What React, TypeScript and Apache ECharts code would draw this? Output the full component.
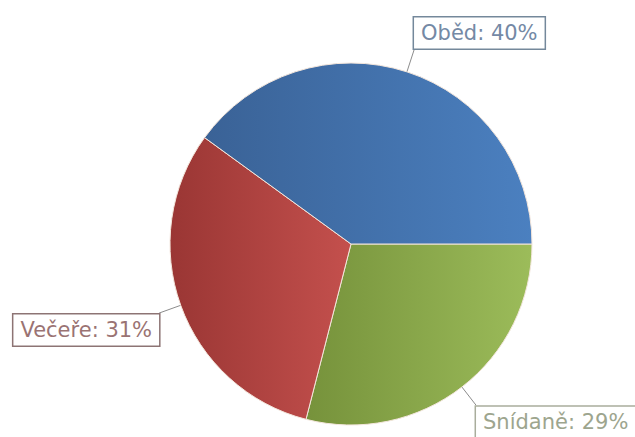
import React, { useEffect, useRef } from "react";
import * as echarts from "echarts";

const categories = ["Snídaně", "Večeře", "Oběd"];
const values = [29, 31, 40];
const darkColors = ["#76923b", "#9a3634", "#3a6296"];
const lightColors = ["#9cbc5a", "#c4504d", "#4b80c0"];
const textColors = ["#9da58e", "#9a7373", "#7489a5"];
const boxColors = ["#a9ad9c", "#8d7474", "#74889b"];

export default function App() {
  const ref = useRef<HTMLDivElement>(null);
  useEffect(() => {
    document.body.style.margin = "0";
    const chart = echarts.init(ref.current!, undefined, { renderer: "svg" });
    const data = categories.map((name, i) => ({
      name,
      value: values[i],
      itemStyle: {
        color: new echarts.graphic.LinearGradient(0, 0, 1, 0, [
          { offset: 0, color: darkColors[i] },
          { offset: 1, color: lightColors[i] },
        ]),
      },
      label: {
        color: textColors[i],
        borderColor: boxColors[i],
      },
    }));
    chart.setOption({
      animation: false,
      backgroundColor: "#ffffff",
      series: [
        {
          type: "pie",
          center: [351, 244],
          radius: 181,
          startAngle: 0,
          clockwise: true,
          avoidLabelOverlap: false,
          silent: true,
          itemStyle: { borderColor: "#f3e6dc", borderWidth: 1 },
          label: {
            show: true,
            position: "outside",
            formatter: (p: any) => `${p.name}: ${p.value}%`,
            fontFamily: "DejaVu Sans",
            fontSize: 21,
            lineHeight: 24,
            borderWidth: 1.5,
            padding: [4, 7, 3, 7],
            backgroundColor: "#ffffff",
            distanceToLabelLine: 0,
          },
          labelLine: {
            show: true,
            length: 23,
            length2: 0,
            lineStyle: { color: "#8c8c8c", width: 1 },
          },
          labelLayout: (params: any) => {
            const pts = params.labelLinePoints;
            const end = pts ? pts[pts.length - 1] : null;
            const h = params.labelRect.height;
            const up = end && end[1] < 244;
            return {
              dy: up ? -h / 2 : h / 2,
              labelLinePoints: pts,
            };
          },
          data,
        },
      ],
    });
    return () => chart.dispose();
  }, []);
  return <div ref={ref} style={{ width: 635, height: 437 }} />;
}
